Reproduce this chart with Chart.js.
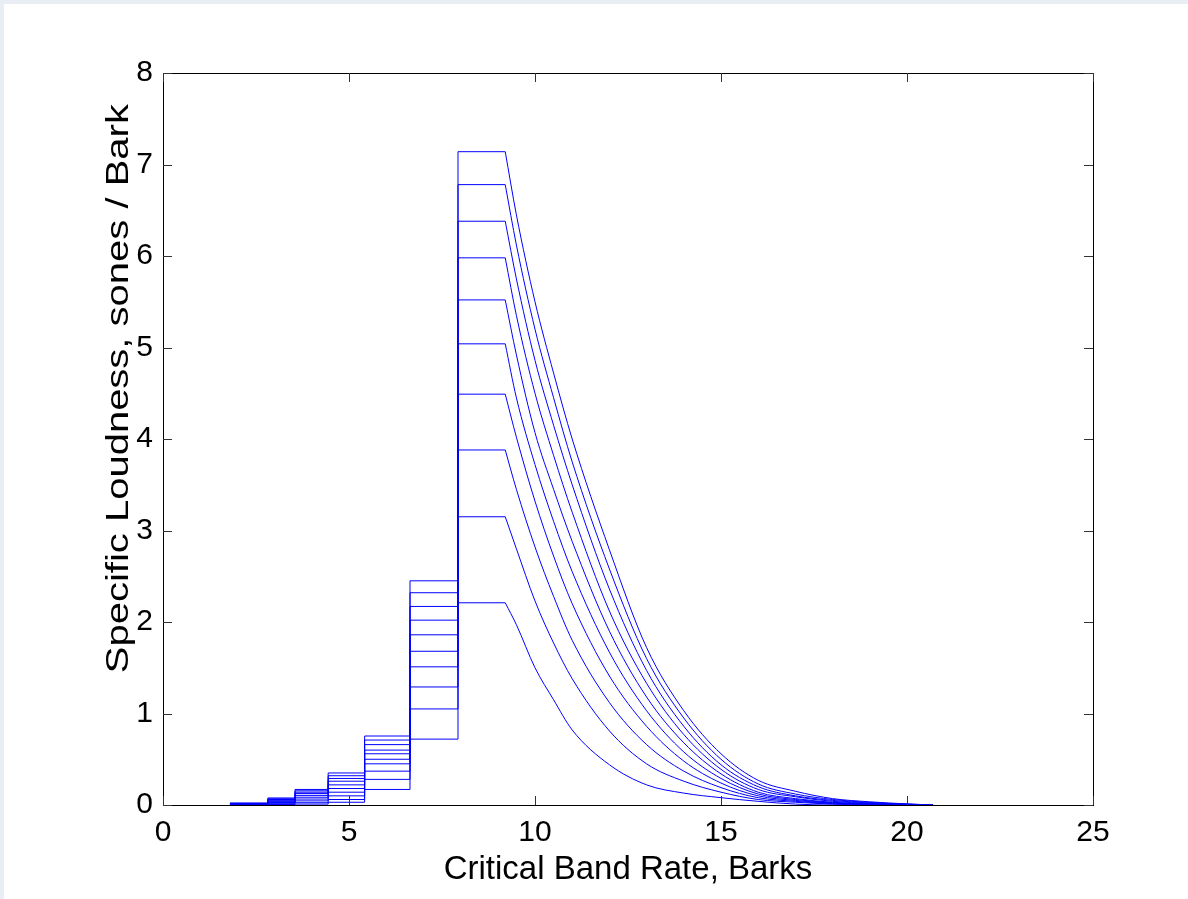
<!DOCTYPE html>
<html>
<head>
<meta charset="utf-8">
<script src="https://cdn.jsdelivr.net/npm/chart.js@4.4.0/dist/chart.umd.min.js"></script>
<style>
  html, body { margin: 0; padding: 0; background: #e9eef5; overflow: hidden; }
  #paper { position: absolute; left: 4px; top: 4px; right: 0; bottom: 0; background: #fff; }
  #chart { position: absolute; left: 0; top: 0; }
</style>
</head>
<body>
<div id="paper"></div>
<canvas id="chart" width="1188" height="899"></canvas>
<script>
// ---- axis ticks ----
const xTicks = [0, 5, 10, 15, 20, 25];
const yTicks = [0, 1, 2, 3, 4, 5, 6, 7, 8];
const yTitle = "Specific Loudness, sones / Bark";

// ---- staircase part (Barks where each band starts; last one = rise to peak) ----
const bandStarts = [1.8, 2.82, 3.55, 4.44, 5.42, 6.64, 7.93];
const plateauEnd = 9.2;

// level in each band, one value per curve (lowest curve first)
const bandA = [0.001, 0.002, 0.004, 0.006, 0.008, 0.01, 0.012, 0.015, 0.018, 0.022];
const bandB = [0.005, 0.012, 0.02, 0.028, 0.036, 0.044, 0.052, 0.06, 0.068, 0.077];
const bandC = [0.01, 0.025, 0.045, 0.065, 0.085, 0.105, 0.125, 0.14, 0.155, 0.17];
const bandD = [0.03, 0.06, 0.1, 0.14, 0.18, 0.22, 0.26, 0.29, 0.32, 0.35];
const bandE = [0.17, 0.28, 0.37, 0.45, 0.5, 0.56, 0.6, 0.66, 0.71, 0.754];
const bandF = [0.72, 1.05, 1.29, 1.51, 1.68, 1.86, 2.02, 2.17, 2.32, 2.45];
const peak  = [2.21, 3.15, 3.88, 4.49, 5.04, 5.52, 5.98, 6.38, 6.78, 7.14];

// ---- decay part after the plateau ----
const decayX = [9.5, 10, 10.5, 11, 12, 13, 14, 15, 16, 17, 18, 19, 20, 20.7];
const decay1  = [1.97, 1.5, 1.15, 0.82, 0.44, 0.22, 0.13, 0.08, 0.04, 0.01, 0, 0, 0, 0];
const decay2  = [2.8, 2.23, 1.77, 1.38, 0.81, 0.45, 0.26, 0.14, 0.06, 0.03, 0.01, 0, 0, 0];
const decay3  = [3.45, 2.82, 2.28, 1.8, 1.12, 0.66, 0.37, 0.19, 0.08, 0.04, 0.015, 0.005, 0, 0];
const decay4  = [4.02, 3.32, 2.72, 2.2, 1.41, 0.86, 0.48, 0.24, 0.1, 0.05, 0.02, 0.008, 0, 0];
const decay5  = [4.45, 3.72, 3.1, 2.55, 1.67, 1.03, 0.58, 0.29, 0.12, 0.06, 0.025, 0.01, 0.002, 0];
const decay6  = [4.92, 4.07, 3.45, 2.88, 1.9, 1.18, 0.68, 0.34, 0.14, 0.07, 0.03, 0.013, 0.004, 0];
const decay7  = [5.35, 4.5, 3.82, 3.2, 2.12, 1.33, 0.77, 0.39, 0.17, 0.09, 0.04, 0.017, 0.006, 0];
const decay8  = [5.75, 4.86, 4.15, 3.5, 2.36, 1.47, 0.86, 0.44, 0.2, 0.1, 0.05, 0.022, 0.008, 0];
const decay9  = [6.12, 5.2, 4.45, 3.75, 2.58, 1.6, 0.95, 0.5, 0.23, 0.12, 0.06, 0.028, 0.01, 0];
const decay10 = [6.45, 5.5, 4.72, 4.0, 2.79, 1.72, 1.03, 0.56, 0.27, 0.15, 0.07, 0.035, 0.012, 0];

const decays = [decay1, decay2, decay3, decay4, decay5, decay6, decay7, decay8, decay9, decay10];
const bands = [bandA, bandB, bandC, bandD, bandE, bandF];
const lineColor = "rgb(0, 0, 255)";
const fontFamily = "'Liberation Sans', Arial, sans-serif";

// build datasets: a staircase + a smooth decay for each curve
const datasets = [];
peak.forEach((p, k) => {
  const stairs = [];
  bands.forEach((band, i) => {
    stairs.push({ x: bandStarts[i], y: band[k] });
    stairs.push({ x: bandStarts[i + 1], y: band[k] });
  });
  stairs.push({ x: bandStarts[6], y: p });
  stairs.push({ x: plateauEnd, y: p });
  datasets.push({
    data: stairs,
    borderColor: lineColor,
    borderWidth: 1,
    pointRadius: 0,
    tension: 0
  });

  const tail = [{ x: plateauEnd, y: p }];
  decayX.forEach((x, i) => tail.push({ x: x, y: decays[k][i] }));
  datasets.push({
    data: tail,
    borderColor: lineColor,
    borderWidth: 1,
    pointRadius: 0,
    cubicInterpolationMode: "monotone"
  });
});

// MATLAB style box with inward ticks, plus the y label
const boxPlugin = {
  id: "boxPlugin",
  afterDraw(chart) {
    const { ctx, chartArea: a, scales } = chart;
    const len = 9;
    ctx.save();
    ctx.strokeStyle = "#000";
    ctx.lineWidth = 1;
    ctx.strokeRect(a.left + 0.5, a.top + 0.5, a.right - a.left, a.bottom - a.top);
    ctx.strokeStyle = "#333";
    ctx.beginPath();
    xTicks.forEach(v => {
      const px = Math.round(scales.x.getPixelForValue(v)) + 0.5;
      ctx.moveTo(px, a.bottom); ctx.lineTo(px, a.bottom - len);
      ctx.moveTo(px, a.top); ctx.lineTo(px, a.top + len);
    });
    yTicks.forEach(v => {
      const py = Math.round(scales.y.getPixelForValue(v)) + 0.5;
      ctx.moveTo(a.left, py); ctx.lineTo(a.left + len, py);
      ctx.moveTo(a.right, py); ctx.lineTo(a.right - len, py);
    });
    ctx.stroke();

    // y label sits a bit above the axis middle in the original
    ctx.translate(119, scales.y.getPixelForValue(4.55));
    ctx.rotate(-Math.PI / 2);
    ctx.scale(1, 0.8);
    ctx.fillStyle = "#000";
    ctx.font = "40px " + fontFamily;
    ctx.textAlign = "center";
    ctx.textBaseline = "middle";
    ctx.fillText(yTitle, 0, 0);
    ctx.restore();
  }
};

new Chart(document.getElementById("chart"), {
  type: "line",
  data: { datasets: datasets },
  options: {
    responsive: false,
    animation: false,
    events: [],
    layout: { padding: { left: 0, right: 95, top: 73, bottom: 0 } },
    plugins: { legend: { display: false }, tooltip: { enabled: false } },
    scales: {
      x: {
        type: "linear",
        min: 0,
        max: 25,
        afterFit: s => { s.height = 94; },
        afterBuildTicks: s => { s.ticks = xTicks.map(v => ({ value: v })); },
        grid: { display: false, drawTicks: false },
        border: { display: false },
        ticks: { color: "#000", padding: 10, maxRotation: 0, font: { family: fontFamily, size: 30 } },
        title: {
          display: true,
          text: "Critical Band Rate, Barks",
          color: "#000",
          font: { family: fontFamily, size: 33 },
          padding: { top: 0, bottom: 9 }
        }
      },
      y: {
        type: "linear",
        min: 0,
        max: 8,
        afterFit: s => { s.width = 163; },
        afterBuildTicks: s => { s.ticks = yTicks.map(v => ({ value: v })); },
        grid: { display: false, drawTicks: false },
        border: { display: false },
        ticks: { color: "#000", padding: 10, font: { family: fontFamily, size: 30 } }
      }
    }
  },
  plugins: [boxPlugin]
});
</script>
</body>
</html>
